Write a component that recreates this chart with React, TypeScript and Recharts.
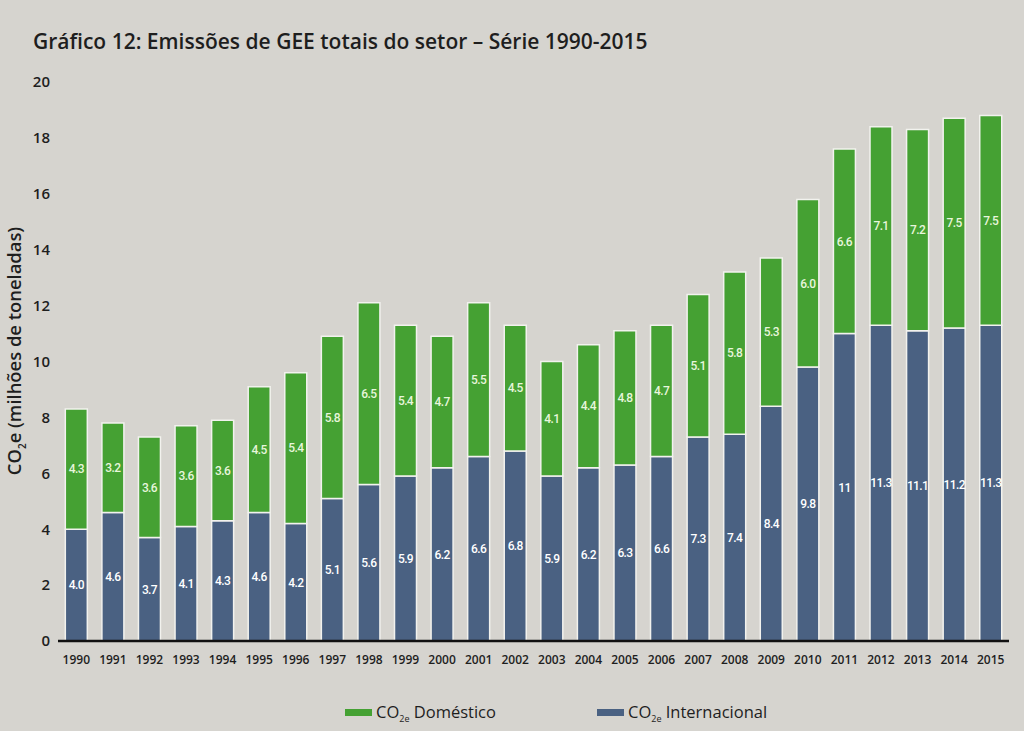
import React from "react";
import { Bar, BarChart, LabelList, XAxis, YAxis } from "recharts";

const years = [
	"1990", "1991", "1992", "1993", "1994", "1995", "1996", "1997", "1998",
	"1999", "2000", "2001", "2002", "2003", "2004", "2005", "2006", "2007",
	"2008", "2009", "2010", "2011", "2012", "2013", "2014", "2015",
];

const internacional = [
	4.0, 4.6, 3.7, 4.1, 4.3, 4.6, 4.2, 5.1, 5.6, 5.9, 6.2, 6.6, 6.8, 5.9, 6.2,
	6.3, 6.6, 7.3, 7.4, 8.4, 9.8, 11, 11.3, 11.1, 11.2, 11.3,
];

const domestico = [
	4.3, 3.2, 3.6, 3.6, 3.6, 4.5, 5.4, 5.8, 6.5, 5.4, 4.7, 5.5, 4.5, 4.1, 4.4,
	4.8, 4.7, 5.1, 5.8, 5.3, 6.0, 6.6, 7.1, 7.2, 7.5, 7.5,
];

const yTicks = [0, 2, 4, 6, 8, 10, 12, 14, 16, 18, 20];

const data = years.map((year, i) => ({
	year,
	internacional: internacional[i],
	domestico: domestico[i],
}));

const fmtIntl = (v: number) => (v >= 10 ? String(v) : v.toFixed(1));
const fmtDom = (v: number) => v.toFixed(1);

const GREEN = "#45a133";
const BLUE = "#4a6182";
const BG = "#d6d4cf";
const FONT = "'Open Sans', sans-serif";
const LABEL_FONT = "Roboto, sans-serif";

const LegendItem = ({ left, color, text }: { left: number; color: string; text: string }) => (
	<div
		style={{
			position: "absolute",
			left,
			top: 700,
			display: "flex",
			alignItems: "center",
			fontFamily: FONT,
			fontSize: 16.5,
			color: "#1e1e1e",
			whiteSpace: "nowrap",
		}}
	>
		<span style={{ display: "inline-block", width: 27, height: 7, background: color, marginRight: 4 }} />
		<span>
			CO<sub style={{ fontSize: 9 }}>2e</sub> {text}
		</span>
	</div>
);

const App = () => {
	return (
		<div
			style={{
				position: "absolute",
				left: 0,
				top: 0,
				width: 1024,
				height: 731,
				background: BG,
				overflow: "hidden",
			}}
		>
			<div
				style={{
					position: "absolute",
					left: 33,
					top: 27,
					fontFamily: FONT,
					fontWeight: 600,
					fontSize: 21,
					color: "#1e1e1e",
					whiteSpace: "nowrap",
				}}
			>
				Gráfico 12: Emissões de GEE totais do setor – Série 1990-2015
			</div>
			<div
				style={{
					position: "absolute",
					left: 15,
					top: 351,
					transform: "translate(-50%, -50%) rotate(-90deg)",
					whiteSpace: "nowrap",
					fontFamily: FONT,
					fontWeight: 600,
					fontSize: 18.4,
					color: "#1e1e1e",
				}}
			>
				CO<sub style={{ fontSize: 10 }}>2</sub>e (milhões de toneladas)
			</div>
			<BarChart
				width={1024}
				height={731}
				data={data}
				margin={{ top: 82, right: 15, bottom: 0, left: 0 }}
				barCategoryGap="20%"
			>
				<YAxis
					width={58}
					domain={[0, 20]}
					ticks={yTicks}
					axisLine={false}
					tickLine={false}
					tickMargin={2}
					tick={{ fill: "#1e1e1e", fontSize: 15, fontFamily: FONT, fontWeight: 600 }}
				/>
				<XAxis
					dataKey="year"
					height={90}
					axisLine={{ stroke: "#111", strokeWidth: 2.5 }}
					tickLine={false}
					tickMargin={8}
					interval={0}
					tick={{ fill: "#1e1e1e", fontSize: 12, fontFamily: FONT, fontWeight: 600 }}
				/>
				<Bar
					dataKey="internacional"
					stackId="a"
					fill={BLUE}
					stroke="#f2f2ee"
					strokeWidth={1.5}
					isAnimationActive={false}
				>
					<LabelList
						dataKey="internacional"
						position="center"
						formatter={(v: number) => fmtIntl(v)}
						fill="#ffffff"
						fontSize={12}
						fontWeight={500}
						letterSpacing={-0.6}
						fontFamily={LABEL_FONT}
					/>
				</Bar>
				<Bar
					dataKey="domestico"
					stackId="a"
					fill={GREEN}
					stroke="#f2f2ee"
					strokeWidth={1.5}
					isAnimationActive={false}
				>
					<LabelList
						dataKey="domestico"
						position="center"
						formatter={(v: number) => fmtDom(v)}
						fill="#e8f6dc"
						fontSize={12}
						fontWeight={500}
						letterSpacing={-0.6}
						fontFamily={LABEL_FONT}
					/>
				</Bar>
			</BarChart>
			<LegendItem left={345} color={GREEN} text="Doméstico" />
			<LegendItem left={597} color={BLUE} text="Internacional" />
		</div>
	);
};

export default App;
